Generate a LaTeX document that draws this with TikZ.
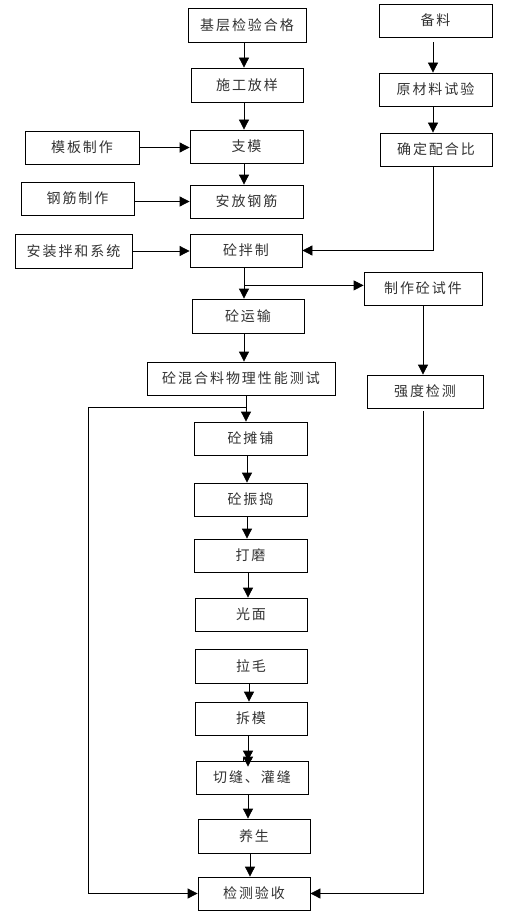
\documentclass[tikz,border=0pt]{standalone}
\usepackage{fontspec}
\newfontfamily\cjk[LetterSpace=14]{Noto Sans CJK SC}
\usetikzlibrary{arrows.meta,calc}
\begin{document}
\begin{tikzpicture}[x=1pt,y=-1pt,
  box/.style={draw,line width=0.8pt,rectangle,inner sep=0pt,align=center,
    font=\cjk\fontsize{14}{16}\selectfont,text=black!80},
  arr/.style={draw,line width=0.8pt,-{Triangle[length=10pt,width=10pt]}},
  ln/.style={draw,line width=0.8pt}]
\useasboundingbox[fill=white] (0,0) rectangle (511,915);
% columns
\coordinate (c244) at (244,0);
\coordinate (c246) at (246,0);
\coordinate (c247) at (247,0);
\coordinate (c248) at (248,0);
\coordinate (c249) at (249,0);
\coordinate (c250) at (250,0);
\coordinate (c433) at (433,0);
\coordinate (c423) at (423,0);
\coordinate (c88) at (88,0);
% nodes
\node[box,minimum width=118pt,minimum height=34pt] (a) at (247,25) {基层检验合格};
\node[box,minimum width=112pt,minimum height=34pt] (b) at (247,85) {施工放样};
\node[box,minimum width=113pt,minimum height=33pt] (c) at (246.5,146.5) {支模};
\node[box,minimum width=113pt,minimum height=33pt] (d) at (246.5,201.5) {安放钢筋};
\node[box,minimum width=114pt,minimum height=33pt] (e) at (82,147.5) {模板制作};
\node[box,minimum width=113pt,minimum height=33pt] (f) at (77.5,198.5) {钢筋制作};
\node[box,minimum width=113pt,minimum height=33pt] (g) at (435.5,20.5) {备料};
\node[box,minimum width=113pt,minimum height=33pt] (h) at (435.5,89.5) {原材料试验};
\node[box,minimum width=112pt,minimum height=33pt] (i) at (436,149.5) {确定配合比};
\node[box,minimum width=117pt,minimum height=34pt] (j) at (73.5,251) {安装拌和系统};
\node[box,minimum width=112pt,minimum height=33pt] (k) at (246,250.5) {砼拌制};
\node[box,minimum width=118pt,minimum height=33pt] (l) at (423,288.5) {制作砼试件};
\node[box,minimum width=112pt,minimum height=34pt] (m) at (248,316) {砼运输};
\node[box,minimum width=188pt,minimum height=33pt] (n) at (241,378.5) {砼混合料物理性能测试};
\node[box,minimum width=116pt,minimum height=33pt] (o) at (425,391.5) {强度检测};
\node[box,minimum width=113pt,minimum height=33pt] (p) at (250.5,438.5) {砼摊铺};
\node[box,minimum width=113pt,minimum height=33pt] (q) at (250.5,499.5) {砼振捣};
\node[box,minimum width=113pt,minimum height=33pt] (r) at (250.5,555.5) {打磨};
\node[box,minimum width=112pt,minimum height=33pt] (s) at (251,614.5) {光面};
\node[box,minimum width=112pt,minimum height=34pt] (t) at (251,666) {拉毛};
\node[box,minimum width=112pt,minimum height=33pt] (u) at (251,718.5) {拆模};
\node[box,minimum width=112pt,minimum height=33pt] (v) at (252,777.5) {切缝、灌缝};
\node[box,minimum width=112pt,minimum height=34pt] (w) at (254,836) {养生};
\node[box,minimum width=112pt,minimum height=33pt] (x) at (254,893.5) {检测验收};
% main column
\draw[arr] (a.south -| c244) -- (b.north -| c244);
\draw[arr] (b.south -| c244) -- (c.north -| c244);
\draw[arr] (c.south -| c244) -- (d.north -| c244);
\draw[arr] (e.east) -- (e.east -| c.west);
\draw[arr] (f.east |- d.west) -- (d.west);
\draw[arr,shorten <=5pt] (g.south -| c433) -- (h.north -| c433);
\draw[arr] (h.south -| c433) -- (i.north -| c433);
\draw[arr] (i.south -| c433) |- (k.east);
\draw[arr] (j.east) -- (j.east -| k.west);
\draw[arr] (k.south -| c244) -- (m.north -| c244);
\coordinate (br) at ($(k.south -| c244)+(0,18)$);
\draw[arr] (br) -- (br -| l.west);
\draw[arr] (m.south -| c244) -- (n.north -| c244);
\draw[arr] (l.south -| c423) -- (o.north -| c423);
\draw[arr] (n.south -| c246) -- (p.north -| c246);
\coordinate (lp) at ($(n.south -| c246)+(0,12)$);
\draw[arr] (lp) -- (lp -| c88) |- (x.west);
\draw[arr,shorten <=3pt] (o.south -| c423) |- (x.east);
\draw[arr] (p.south -| c247) -- (q.north -| c247);
\draw[arr] (q.south -| c247) -- (r.north -| c247);
\draw[arr] (r.south -| c248) -- (s.north -| c248);
\draw[arr] (t.south -| c249) -- (u.north -| c249);
\draw[arr] (u.south -| c248) -- (v.north -| c248);
\draw[arr] (u.south -| c248) -- ($(v.north -| c248)+(0,6)$);
\draw[ln] ($(v.north -| c248)+(-5,-3)$) -- ($(v.north -| c248)+(-5,0)$);
\draw[arr] (v.south -| c248) -- (w.north -| c248);
\draw[arr] (w.south -| c250) -- (x.north -| c250);
\end{tikzpicture}
\end{document}
